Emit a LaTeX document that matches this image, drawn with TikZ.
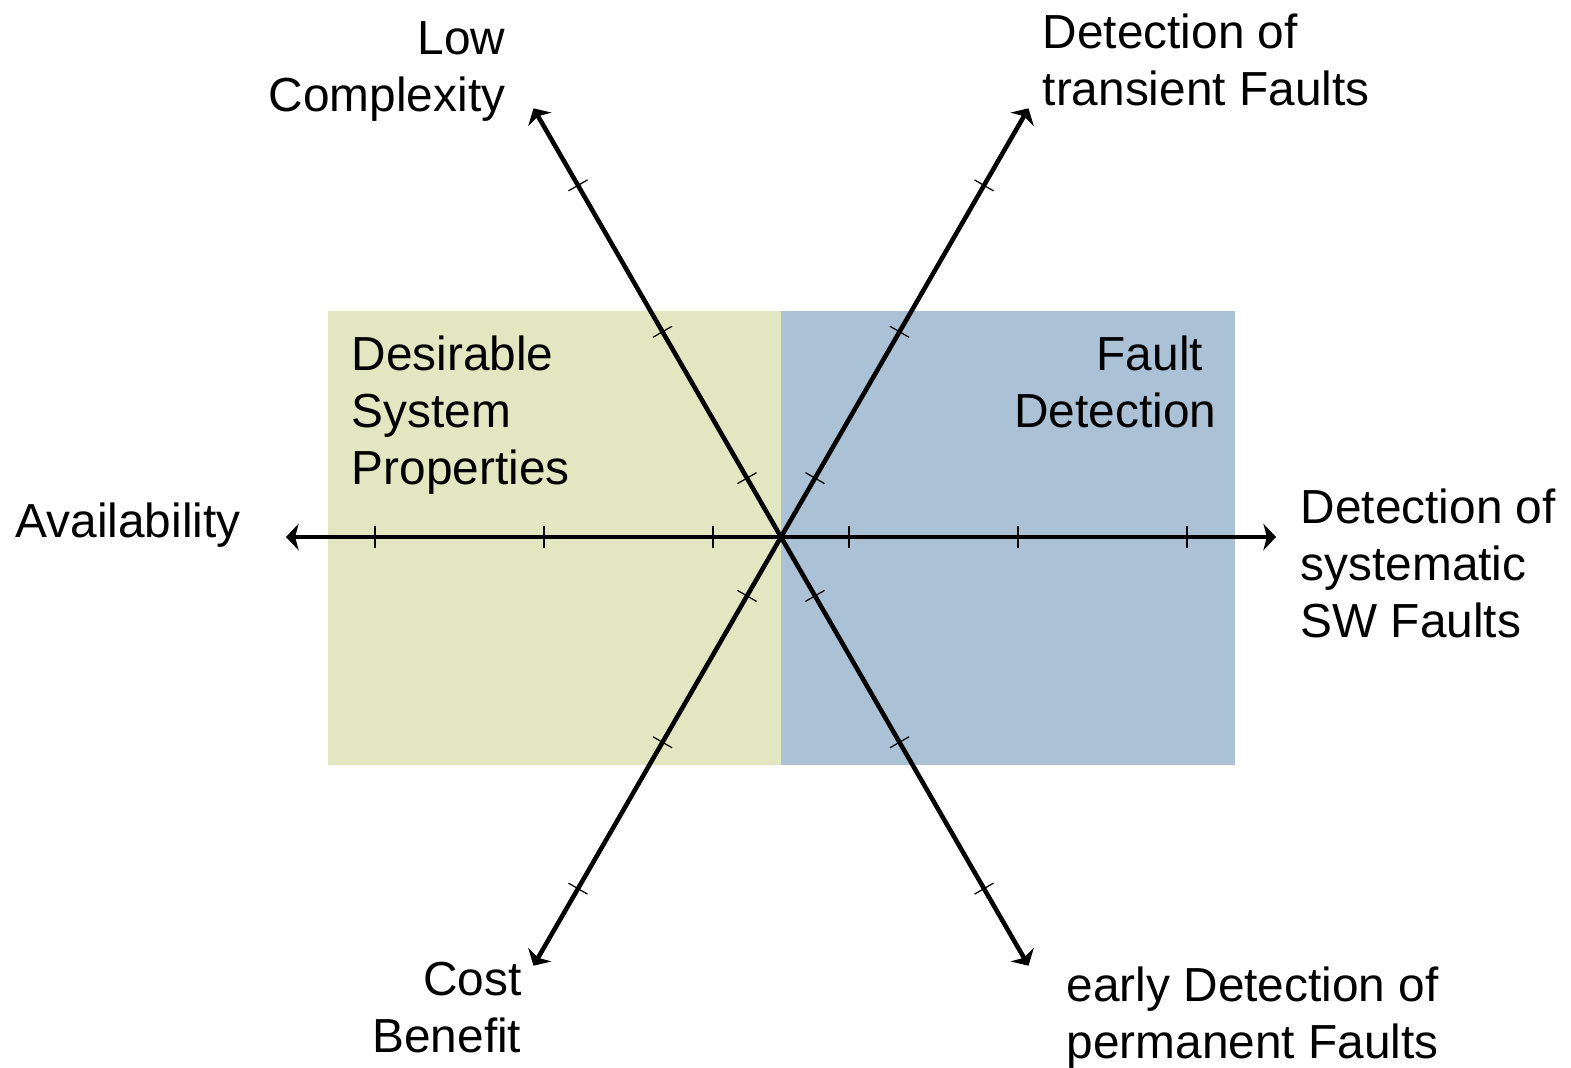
\documentclass[tikz,border=0pt]{standalone}
\usepackage{fontspec}
\setmainfont{Liberation Sans}
\usetikzlibrary{arrows.meta}

\definecolor{propgreen}{RGB}{226,231,193}
\definecolor{faultblue}{RGB}{170,193,214}

\tikzset{
    axis/.style={line width=1.3pt, -{Stealth[length=3.6pt, width=7.6pt, inset=1pt]}},
    axtick/.style={line width=0.35pt},
    lbl/.style={inner sep=0pt, font=\fontsize{13.6}{16.3}\selectfont}
}

\begin{document}
\begin{tikzpicture}
        \useasboundingbox (-7.81,-5.30) rectangle (7.90,5.37);

        % the two areas behind the axes
        \fill[propgreen] (-4.53,-2.28) rectangle (0,2.26);
        \fill[faultblue] (0,-2.28) rectangle (4.54,2.26);

        \coordinate (o) at (0,0);
        \coordinate (tSys) at (0:4.95);
        \coordinate (tTrans) at (60:4.95);
        \coordinate (tLow) at (120:4.95);
        \coordinate (tAvail) at (180:4.95);
        \coordinate (tCost) at (240:4.95);
        \coordinate (tPerm) at (300:4.95);

        % tick marks on every axis
        \foreach \a in {0,60,...,300}
            \foreach \d in {0.68,2.37,4.06}
                \draw[axtick, rotate=\a] (\d,-0.11) -- (\d,0.11);

        \draw[axis] (o) -- (tSys);
        \draw[axis] (o) -- (tTrans);
        \draw[axis] (o) -- (tLow);
        \draw[axis] (o) -- (tAvail);
        \draw[axis] (o) -- (tCost);
        \draw[axis] (o) -- (tPerm);

        \node[lbl, anchor=north west, align=left] (desir) at (-4.30,2.02) {Desirable\\System\\Properties};
        \node[lbl, anchor=north east, align=right] (fault) at (4.36,2.02) {Fault\kern0.28em\\Detection};

        \node[lbl, anchor=north east, align=right] (low) at (-2.75,5.16) {Low\\Complexity};
        \node[lbl, anchor=north west, align=left] (trans) at (2.61,5.24) {Detection of\\transient Faults};
        \node[lbl, anchor=base west] (avail) at (-7.66,0) {Availability};
        \node[lbl, anchor=north west, align=left] (sys) at (5.19,0.49) {Detection of\\systematic\\SW Faults};
        \node[lbl, anchor=north east, align=right] (cost) at (-2.59,-4.24) {Cost\\Benefit};
        \node[lbl, anchor=north west, align=left] (perm) at (2.85,-4.29) {early Detection of\\permanent Faults};
    \end{tikzpicture}
\end{document}
